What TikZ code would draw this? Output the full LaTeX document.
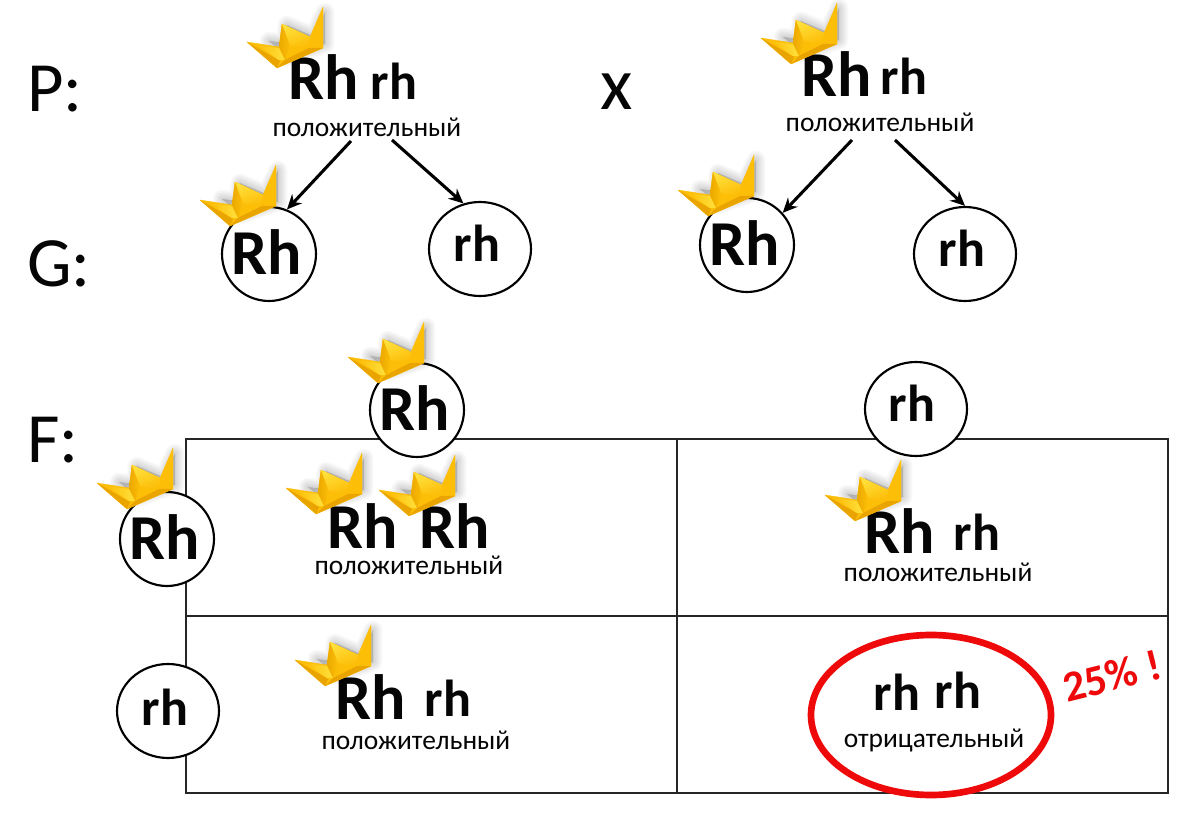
\documentclass[tikz,border=0pt]{standalone}
\usepackage{fontspec}
\setmainfont{Carlito}
\usetikzlibrary{shapes.geometric,arrows.meta}
\definecolor{gdeep}{HTML}{EBA800}
\definecolor{gmid}{HTML}{FDBE08}
\definecolor{glight}{HTML}{FFE03C}
\definecolor{gsh}{HTML}{E9A400}
\definecolor{ink}{HTML}{050505}
\definecolor{rline}{HTML}{EE0A0A}
\tikzset{
  x=0.75pt,y=-0.75pt,
  big/.style={font=\fontsize{48}{48}\selectfont\bfseries,anchor=base,text=ink,inner sep=0pt},
  small/.style={font=\fontsize{39}{39}\selectfont\bfseries,anchor=base,text=ink,inner sep=0pt},
  lab/.style={font=\fontsize{20.6}{20.6}\selectfont,anchor=base,text=ink,inner sep=0pt},
  gen/.style={font=\fontsize{53}{53}\selectfont,anchor=base west,text=ink,inner sep=0pt},
  ring/.style={ellipse,draw=black,line width=1.6pt,fill=white,minimum width=94*0.75pt,minimum height=94*0.75pt,inner sep=0pt},
  wring/.style={ring,minimum width=102*0.75pt},
  cell/.style={rectangle,draw=black!85,line width=1.1pt,minimum width=491*0.75pt,minimum height=177*0.75pt,inner sep=0pt},
  arr/.style={-{Stealth[length=11pt,width=10pt]},line width=2.3pt,black},
  crown/.pic={
    \foreach \k in {14,12,10,8,6,4,2}{
      \fill[black,opacity=0.022,draw=black,line width=\k pt,line join=round]
        (22,-1)--(38,1)--(40,-17)--(66,-6)--(78,-30)--(78,2)--(40,15)--cycle;
    }
    \fill[gmid,draw=gmid,line width=0.3pt,line join=round] (0,0)--(32,5)--(35,-18)--(63,-5)--(76,-35)--(76,6)--(30,26)--cycle;
    \fill[gsh] (0,0)--(30,26)--(33,19)--(14,8)--cycle;
    \shade[left color=gmid,right color=glight] (10,3)--(32,6)--(38,18)--(32,18)--cycle;
    \shade[left color=gdeep,right color=gmid] (32,5)--(35,-18)--(43,3)--(38,18)--cycle;
    \shade[top color=glight,bottom color=gmid,shading angle=20] (35,-18)--(63,-5)--(62,6)--(43,3)--cycle;
    \fill[gsh] (30,26)--(76,6)--(62,6)--(38,18)--cycle;
  }
}
\begin{document}
\begin{tikzpicture}
\useasboundingbox (0,0) rectangle (1200,816);
\fill[white] (0,0) rectangle (1200,816);
% table
\node[cell] (c11) at (431.5,527.5) {};
\node[cell] (c12) at (922.5,527.5) {};
\node[cell] (c21) at (431.5,704.5) {};
\node[cell] (c22) at (922.5,704.5) {};
% generation labels
\node[gen] (lp) at (27,112) {P:};
\node[gen] (lg) at (27,287) {G:};
\node[gen] (lf) at (27,463) {F:};
\node[font=\fontsize{56}{56}\selectfont,anchor=base,inner sep=0pt,text=ink] (cross) at (617,110) {x};
% parents
\node[big] (p1R) at (324,100) {Rh};
\node[small] (p1r) at (394,100) {rh};
\node[lab] (p1l) at (367,137) {положительный};
\node[big] (p2R) at (837,97) {Rh};
\node[small] (p2r) at (904,95) {rh};
\node[lab] (p2l) at (880,132) {положительный};
% gametes
\node[ring] (g1) at (269,254) {};
\node[big] at (267,275) (g1t) {Rh};
\node[wring] (g2) at (480,249) {};
\node[small] at (477,262) (g2t) {rh};
\node[ring] (g3) at (747,245) {};
\node[big] at (745,266) (g3t) {Rh};
\node[wring] (g4) at (965,254) {};
\node[small] at (962,267) (g4t) {rh};
% arrows
\coordinate (a1) at (351,141);
\coordinate (a2) at (392,140);
\coordinate (a3) at (852,140);
\coordinate (a4) at (895,140);
\draw[arr] (a1) -- (g1.68);
\draw[arr] (a2) -- (g2.110);
\draw[arr] (a3) -- (g3.42);
\draw[arr] (a4) -- (g4.90);
% Punnett headers
\node[ring] (h1) at (417,410) {};
\node[big] at (415,431) (h1t) {Rh};
\node[wring] (h2) at (916,409) {};
\node[small] at (912,422) (h2t) {rh};
\node[ring] (v1) at (167,539) {};
\node[big] at (165,559) (v1t) {Rh};
\node[wring] (v2) at (168,711) {};
\node[small] at (165,725) (v2t) {rh};
% cells
\node[big] at (363,548) (t1) {Rh};
\node[big] at (455,548) (t2) {Rh};
\node[lab] at (409,574) (t3) {положительный};
\node[big] at (900,553) (t4) {Rh};
\node[small] at (977,550) (t5) {rh};
\node[lab] at (938,581) (t6) {положительный};
\node[big] at (371,719) (t7) {Rh};
\node[small] at (448,716) (t8) {rh};
\node[lab] at (416,749) (t9) {положительный};
\node[small] at (897,710) (t10) {rh};
\node[small] at (958,708) (t11) {rh};
\node[lab] at (934,747) (t12) {отрицательный};
\node[ellipse,draw=rline,line width=5pt,minimum width=240*0.75pt,minimum height=160*0.75pt,inner sep=0pt] (oval) at (931,715) {};
\node[font=\fontsize{32.5}{32.5}\selectfont\bfseries,text=rline,rotate=14,inner sep=0pt] (pct) at (1112,676) {25\% !};
% crowns
\foreach \cx/\cy in {247/42,761/38,200/200,678/190,348/357,97/483,286/488,379/490,825/495,295/660}{
  \pic at (\cx,\cy) {crown};
}
\end{tikzpicture}
\end{document}
